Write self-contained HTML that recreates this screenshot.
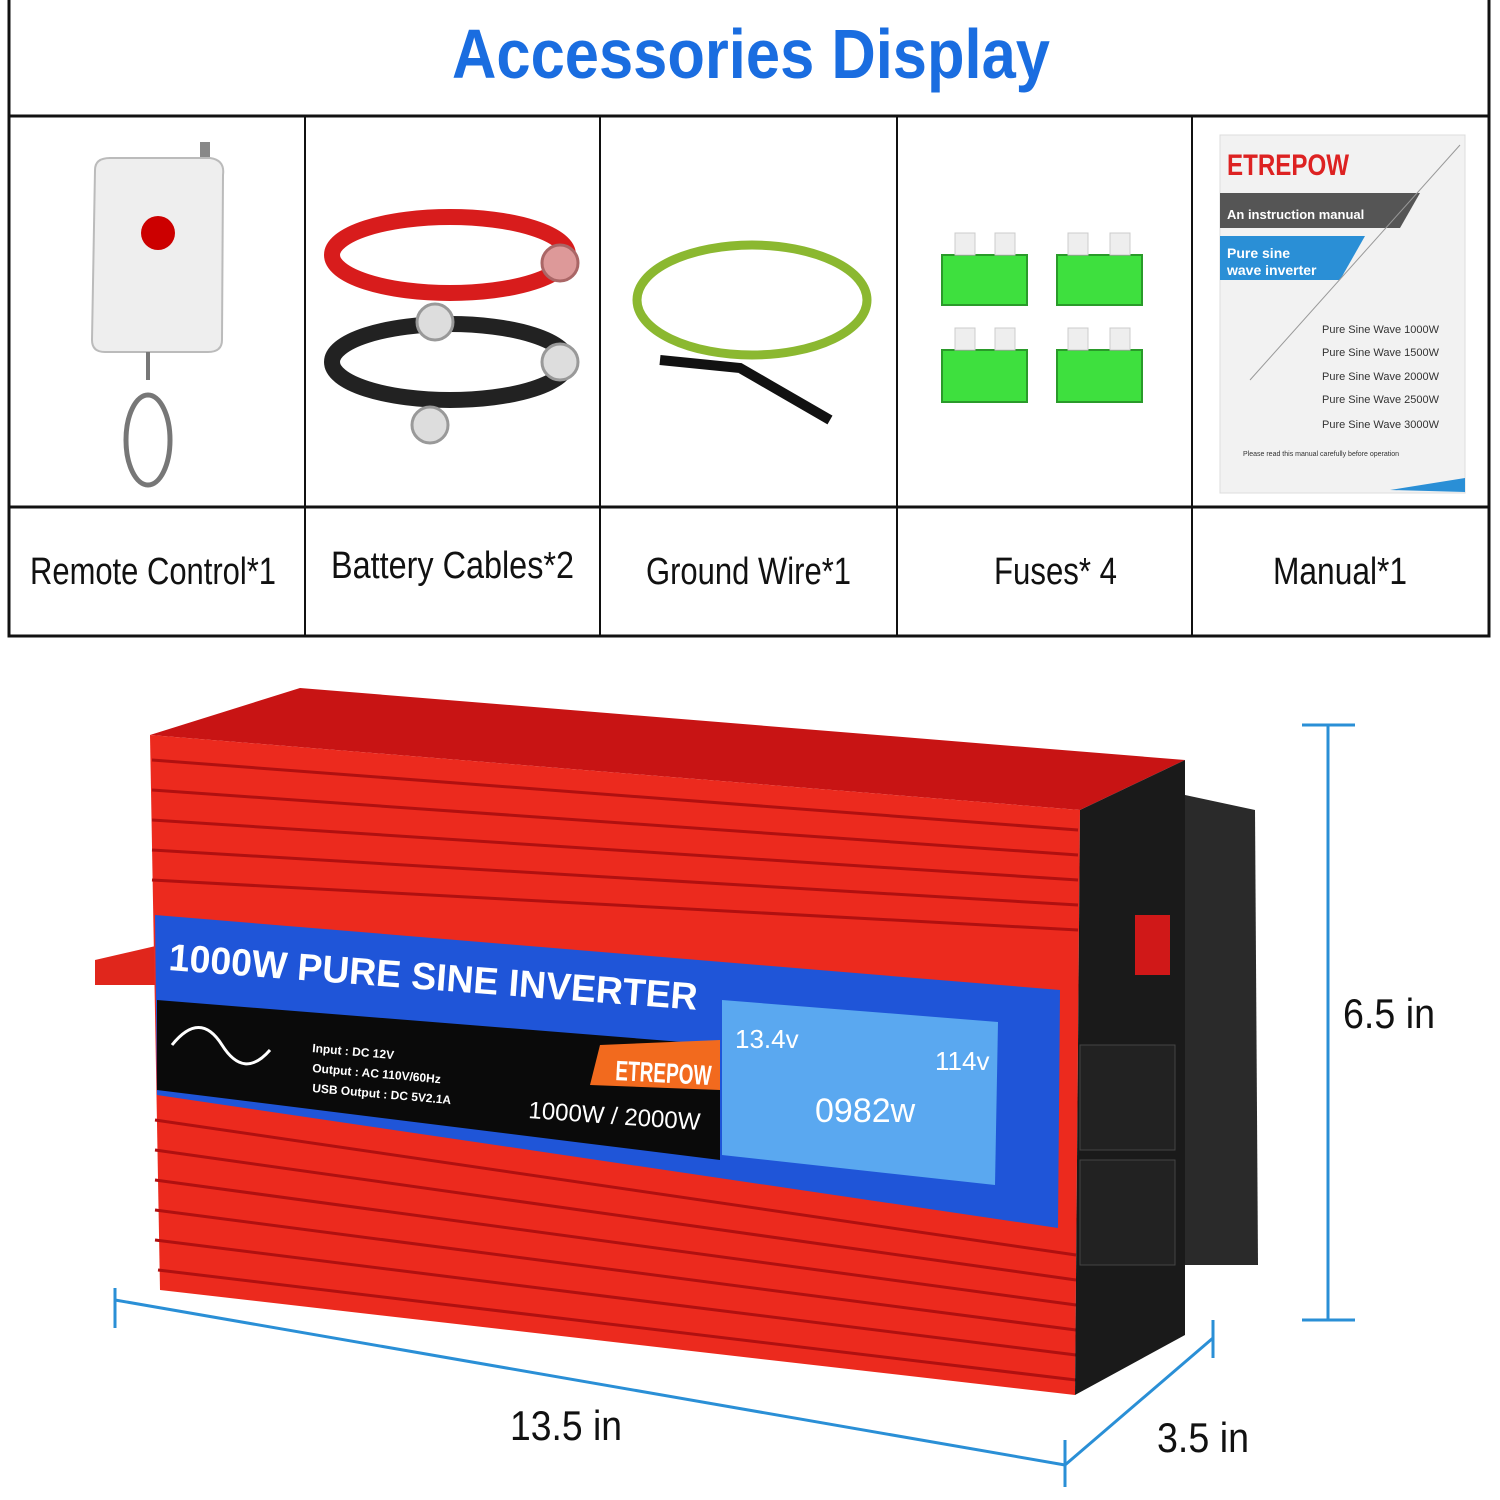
<!DOCTYPE html>
<html><head><meta charset="utf-8"><style>
html,body{margin:0;padding:0;background:#fff;}
svg{display:block}
text{font-family:"Liberation Sans",sans-serif}
</style></head><body>
<svg width="1500" height="1500" viewBox="0 0 1500 1500" xmlns="http://www.w3.org/2000/svg">
<rect width="1500" height="1500" fill="#fff"/>
<g stroke="#111" fill="none">
<rect x="9" y="-2" width="1480" height="638" stroke-width="3"/>
<line x1="9" y1="116" x2="1489" y2="116" stroke-width="3"/>
<line x1="9" y1="507" x2="1489" y2="507" stroke-width="3"/>
<line x1="305" y1="116" x2="305" y2="636" stroke-width="2"/>
<line x1="600" y1="116" x2="600" y2="636" stroke-width="2"/>
<line x1="897" y1="116" x2="897" y2="636" stroke-width="2"/>
<line x1="1192" y1="116" x2="1192" y2="636" stroke-width="2"/>
</g>
<text x="452" y="78" font-size="70" font-weight="bold" fill="#1a6de0" textLength="598" lengthAdjust="spacingAndGlyphs">Accessories Display</text>
<g font-size="38" fill="#111">
<text x="30" y="584" textLength="246" lengthAdjust="spacingAndGlyphs">Remote Control*1</text>
<text x="331" y="578" textLength="243" lengthAdjust="spacingAndGlyphs">Battery Cables*2</text>
<text x="646" y="584" textLength="205" lengthAdjust="spacingAndGlyphs">Ground Wire*1</text>
<text x="994" y="584" textLength="123" lengthAdjust="spacingAndGlyphs">Fuses* 4</text>
<text x="1273" y="584" textLength="134" lengthAdjust="spacingAndGlyphs">Manual*1</text>
</g>
<rect x="200" y="142" width="10" height="25" fill="#888"/>
<path d="M95 170 Q95 158 110 158 L210 158 Q225 160 223 175 L222 340 Q222 352 208 352 L105 352 Q92 352 92 340 Z" fill="#eee" stroke="#bbb" stroke-width="2"/>
<circle cx="158" cy="233" r="17" fill="#c00"/>
<line x1="148" y1="352" x2="148" y2="380" stroke="#777" stroke-width="4"/>
<ellipse cx="148" cy="440" rx="22" ry="45" fill="none" stroke="#777" stroke-width="5"/>
<ellipse cx="450" cy="255" rx="118" ry="38" fill="none" stroke="#d81c1c" stroke-width="16"/>
<ellipse cx="450" cy="362" rx="118" ry="38" fill="none" stroke="#222" stroke-width="16"/>
<circle cx="560" cy="263" r="18" fill="#d99" stroke="#a66" stroke-width="3"/>
<circle cx="435" cy="322" r="18" fill="#ddd" stroke="#999" stroke-width="3"/>
<circle cx="560" cy="362" r="18" fill="#ddd" stroke="#999" stroke-width="3"/>
<circle cx="430" cy="425" r="18" fill="#ddd" stroke="#999" stroke-width="3"/>
<ellipse cx="752" cy="300" rx="115" ry="55" fill="none" stroke="#8bb830" stroke-width="9"/>
<path d="M660 360 L740 368 L830 420" stroke="#111" stroke-width="10" fill="none"/>
<g fill="#3ee03e" stroke="#2a9a2a" stroke-width="2">
<rect x="942" y="255" width="85" height="50"/><rect x="1057" y="255" width="85" height="50"/>
<rect x="942" y="350" width="85" height="52"/><rect x="1057" y="350" width="85" height="52"/>
</g>
<g fill="#eee" stroke="#ccc"><rect x="955" y="233" width="20" height="22"/><rect x="995" y="233" width="20" height="22"/><rect x="1068" y="233" width="20" height="22"/><rect x="1110" y="233" width="20" height="22"/>
<rect x="955" y="328" width="20" height="22"/><rect x="995" y="328" width="20" height="22"/><rect x="1068" y="328" width="20" height="22"/><rect x="1110" y="328" width="20" height="22"/></g>
<rect x="1220" y="135" width="245" height="358" fill="#f2f2f2" stroke="#ddd"/>
<text x="1227" y="175" font-size="30" font-weight="bold" fill="#d22" textLength="122" lengthAdjust="spacingAndGlyphs">ETREPOW</text>
<polygon points="1220,193 1420,193 1400,228 1220,228" fill="#555"/>
<text x="1227" y="219" font-size="13" font-weight="bold" fill="#fff">An instruction manual</text>
<polygon points="1220,236 1365,236 1340,280 1220,280" fill="#2a8fd6"/>
<text x="1227" y="258" font-size="14" font-weight="bold" fill="#fff">Pure sine</text>
<text x="1227" y="275" font-size="14" font-weight="bold" fill="#fff">wave inverter</text>
<g font-size="11" fill="#333"><text x="1322" y="333">Pure Sine Wave 1000W</text><text x="1322" y="356">Pure Sine Wave 1500W</text><text x="1322" y="380">Pure Sine Wave 2000W</text><text x="1322" y="403">Pure Sine Wave 2500W</text><text x="1322" y="428">Pure Sine Wave 3000W</text></g>
<text x="1243" y="456" font-size="7" fill="#333">Please read this manual carefully before operation</text>
<line x1="1250" y1="380" x2="1460" y2="145" stroke="#999"/>
<polygon points="1390,490 1465,478 1465,492" fill="#2a8fd6"/>
<polygon points="95,960 160,945 165,985 95,985" fill="#e0261c"/>
<polygon points="150,735 300,688 1185,760 1080,810" fill="#c81414"/>
<polygon points="150,735 1080,810 1075,1395 160,1290" fill="#ec2a1e"/>
<g stroke="#b01010" stroke-width="3">
<line x1="152" y1="760" x2="1078" y2="830"/><line x1="152" y1="790" x2="1078" y2="855"/><line x1="152" y1="820" x2="1078" y2="880"/><line x1="152" y1="850" x2="1078" y2="905"/><line x1="152" y1="880" x2="1078" y2="930"/>
<line x1="155" y1="1120" x2="1076" y2="1255"/><line x1="155" y1="1150" x2="1076" y2="1280"/><line x1="155" y1="1180" x2="1076" y2="1305"/><line x1="155" y1="1210" x2="1076" y2="1330"/><line x1="155" y1="1240" x2="1076" y2="1355"/><line x1="158" y1="1270" x2="1076" y2="1380"/>
</g>
<polygon points="155,915 1060,990 1058,1228 157,1095" fill="#1f55d8"/>
<polygon points="157,1000 720,1045 720,1160 157,1090" fill="#0a0a0a"/>
<text x="168" y="970" font-size="38" font-weight="bold" fill="#fff" transform="rotate(4.3 168 970)" textLength="530" lengthAdjust="spacingAndGlyphs">1000W PURE SINE INVERTER</text>
<polygon points="600,1045 720,1040 720,1090 590,1085" fill="#f26a1e"/>
<text x="615" y="1080" font-size="28" font-weight="bold" fill="#fff" transform="rotate(3 615 1080)" textLength="96" lengthAdjust="spacingAndGlyphs">ETREPOW</text>
<g font-size="12" font-weight="bold" fill="#fff" font-family="Liberation Mono"><text x="312" y="1052" transform="rotate(5 312 1052)">Input : DC 12V</text><text x="312" y="1072" transform="rotate(5 312 1072)">Output : AC 110V/60Hz</text><text x="312" y="1092" transform="rotate(5 312 1092)">USB Output : DC 5V2.1A</text></g>
<text x="528" y="1118" font-size="24" fill="#fff" transform="rotate(4 528 1118)">1000W / 2000W</text>
<path d="M172 1045 Q200 1010 222 1045 T270 1050" stroke="#fff" stroke-width="3" fill="none"/>
<polygon points="722,1000 998,1022 995,1185 722,1155" fill="#5aa8f0"/>
<text x="815" y="1122" font-size="34" fill="#fff">0982w</text>
<text x="735" y="1048" font-size="26" fill="#fff">13.4v</text>
<text x="935" y="1070" font-size="26" fill="#fff">114v</text>
<polygon points="1080,810 1185,760 1185,1335 1075,1395" fill="#1a1a1a"/>
<rect x="1080" y="1045" width="95" height="105" fill="#222" stroke="#444"/>
<rect x="1080" y="1160" width="95" height="105" fill="#222" stroke="#444"/>
<rect x="1135" y="915" width="35" height="60" fill="#d01818"/>
<polygon points="1185,795 1255,810 1258,1265 1185,1265" fill="#2a2a2a"/>
<g stroke="#2a8fd6" stroke-width="3" fill="none">
<line x1="1328" y1="725" x2="1328" y2="1320"/><line x1="1302" y1="725" x2="1355" y2="725"/><line x1="1302" y1="1320" x2="1355" y2="1320"/>
<line x1="115" y1="1300" x2="1065" y2="1465"/><line x1="115" y1="1288" x2="115" y2="1328"/>
<line x1="1065" y1="1465" x2="1213" y2="1338"/><line x1="1065" y1="1440" x2="1065" y2="1487"/><line x1="1213" y1="1320" x2="1213" y2="1358"/>
</g>
<g font-size="42" fill="#111">
<text x="1343" y="1028" textLength="92" lengthAdjust="spacingAndGlyphs">6.5 in</text>
<text x="510" y="1440" textLength="112" lengthAdjust="spacingAndGlyphs">13.5 in</text>
<text x="1157" y="1452" textLength="92" lengthAdjust="spacingAndGlyphs">3.5 in</text>
</g>
</svg>
</body></html>
